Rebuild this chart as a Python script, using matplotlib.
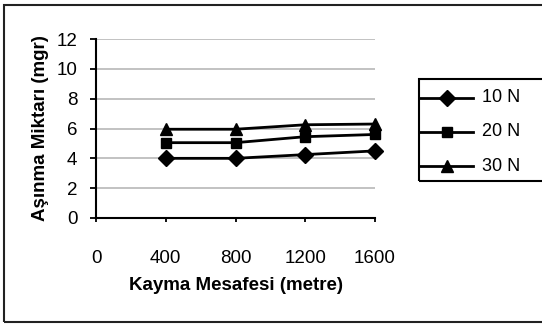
import matplotlib
matplotlib.use("Agg")
import matplotlib.pyplot as plt
from matplotlib.patches import Rectangle
from matplotlib.lines import Line2D

plt.rcParams['font.family'] = ['Liberation Sans', 'DejaVu Sans']

distance = [400, 800, 1200, 1600]
wear_10n = [4.0, 4.0, 4.25, 4.5]
wear_20n = [5.05, 5.05, 5.45, 5.6]
wear_30n = [5.95, 5.95, 6.25, 6.3]
series_labels = ['10 N', '20 N', '30 N']
x_ticks = [0, 400, 800, 1200, 1600]
y_ticks = [0, 2, 4, 6, 8, 10, 12]

W, H = 542, 324
fig = plt.figure(figsize=(W / 100, H / 100), dpi=100)
ax = fig.add_axes([96 / W, 1 - 218 / H, (375 - 96) / W, (218 - 39) / H])

markers = ['D', 's', '^']
sizes = [8, 7, 8.5]
for vals, mk, ms, lab in zip([wear_10n, wear_20n, wear_30n], markers, sizes, series_labels):
    ax.plot(distance, vals, color='black', lw=2, marker=mk, ms=ms,
            label=lab, clip_on=False, zorder=3)

ax.set_xlim(0, 1600)
ax.set_ylim(0, 12)
ax.set_xticks(x_ticks)
ax.set_yticks(y_ticks)
ax.yaxis.grid(True, color='#bdbdbd', lw=1.3)
ax.set_axisbelow(True)
for s in ['top', 'right']:
    ax.spines[s].set_visible(False)
for s in ['left', 'bottom']:
    ax.spines[s].set_linewidth(1.5)
ax.tick_params(axis='y', direction='out', length=4.5, width=1.3, pad=9, labelsize=13.5)
ax.tick_params(axis='x', direction='out', length=3, width=1.3, pad=20, labelsize=13.5)

ax.set_xlabel('Kayma Mesafesi (metre)', fontsize=13.5, fontweight='bold', labelpad=7)
ax.set_ylabel('Aşınma Miktarı (mgr)', fontsize=13.5, fontweight='bold', labelpad=5)

# legend box, drawn in pixel positions of the figure
def px(x, y):
    return x / W, 1 - y / H

lx0, ly0, ly1 = 419, 79, 181
x0, y0 = px(lx0, ly1)
fig.patches.append(Rectangle((x0, y0), (W + 5 - lx0) / W, (ly1 - ly0) / H,
                             transform=fig.transFigure, fill=False,
                             edgecolor='black', lw=1.5))
for i, (mk, ms, lab) in enumerate(zip(markers, sizes, series_labels)):
    yy = 98 + 34 * i
    xa, ya = px(420, yy)
    xb, _ = px(473, yy)
    xm, _ = px(447, yy)
    fig.add_artist(Line2D([xa, xb], [ya, ya], color='black', lw=2,
                          transform=fig.transFigure))
    fig.add_artist(Line2D([xm], [ya], color='black', marker=mk, ms=ms,
                          transform=fig.transFigure))
    xt, _ = px(482, yy)
    fig.text(xt, ya, lab, fontsize=13, va='center', ha='left')

fig.patches.append(Rectangle((4 / W, 1 - 322 / H), (W + 5 - 4) / W, (322 - 5) / H,
                             transform=fig.transFigure, fill=False,
                             edgecolor='#222222', lw=1.5))

fig.savefig('out.png', dpi=100)
